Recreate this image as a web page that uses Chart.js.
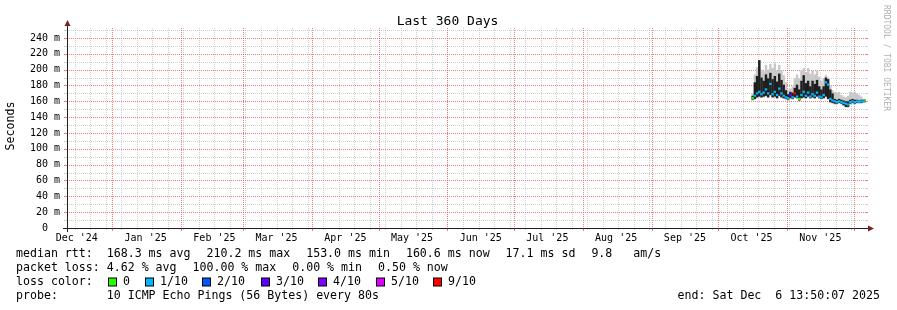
<!DOCTYPE html>
<html lang="en">
<head>
<meta charset="UTF-8">
<title>Last 360 Days</title>
<script src="https://cdn.jsdelivr.net/npm/chart.js"></script>
<style>
  html, body { margin: 0; padding: 0; background: #fff; }
  #wrap { width: 897px; height: 310px; }
</style>
</head>
<body>
<div id="wrap"><canvas id="ping" width="897" height="310"></canvas></div>
<script>
// one sample per day (ms)
const days = [
  '2025-10-16','2025-10-17','2025-10-18','2025-10-19','2025-10-20','2025-10-21','2025-10-22','2025-10-23',
  '2025-10-24','2025-10-25','2025-10-26','2025-10-27','2025-10-28','2025-10-29','2025-10-30','2025-10-31',
  '2025-11-01','2025-11-02','2025-11-03','2025-11-04','2025-11-05','2025-11-06','2025-11-07','2025-11-08',
  '2025-11-09','2025-11-10','2025-11-11','2025-11-12','2025-11-13','2025-11-14','2025-11-15','2025-11-16',
  '2025-11-17','2025-11-18','2025-11-19','2025-11-20','2025-11-21','2025-11-22','2025-11-23','2025-11-24',
  '2025-11-25','2025-11-26','2025-11-27','2025-11-28','2025-11-29','2025-11-30','2025-12-01','2025-12-02',
  '2025-12-03','2025-12-04','2025-12-05','2025-12-06'
];
const median = [
  164,167,170,172,169,171,175,170, 182,169,172,168,176,170,167,165,
  164,168,165,170,166,163,168,172, 167,171,166,169,167,171,166,165,
  168,184,181,163,161,160,159,160, 159,158,157,156,159,160,159,160,
  159,160,160,161
];
const smokeLow = [
  162,163,165,166,165,166,167,165, 168,165,166,164,167,165,164,163,
  162,164,163,165,164,161,164,165, 164,166,164,165,164,166,164,163,
  164,166,163,159,158,157,157,158, 157,155,153,153,157,158,157,158,
  158,158,159,159
];
const smokeHigh = [
  167,184,192,212,190,186,194,189, 196,188,192,185,195,187,181,174,
  169,172,171,177,181,175,186,193, 183,186,179,186,182,187,179,175,
  179,190,188,175,170,163,162,163, 162,161,160,160,162,163,162,162,
  161,162,162,162
];
const smokeTop = [
  170,194,203,212,200,198,206,200, 207,202,208,199,206,199,193,184,
  175,176,179,189,194,189,199,202, 197,202,195,199,194,199,191,186,
  189,193,190,180,174,172,171,172, 168,166,165,167,172,171,172,170,
  168,166,163,163
];
const lossTenths = [
  0,1,1,1,1,1,1,1, 1,1,1,1,1,1,1,1,
  1,3,1,9,1,0,1,1, 1,1,1,1,1,1,1,1,
  1,1,1,1,1,1,1,1, 1,1,1,1,1,1,1,1,
  1,1,1,0
];

const yTicks = [0, 20, 40, 60, 80, 100, 120, 140, 160, 180, 200, 220, 240];
const monthStarts = [
  '2024-12-01','2025-01-01','2025-02-01','2025-03-01','2025-04-01','2025-05-01','2025-06-01',
  '2025-07-01','2025-08-01','2025-09-01','2025-10-01','2025-11-01','2025-12-01'
];
const monthLabels = ["Dec '24", "Jan '25", "Feb '25", "Mar '25", "Apr '25", "May '25",
  "Jun '25", "Jul '25", "Aug '25", "Sep '25", "Oct '25", "Nov '25"];

const lossSteps = [0, 1, 2, 3, 4, 5, 9];
const lossNames = ['0', '1/10', '2/10', '3/10', '4/10', '5/10', '9/10'];
const lossColors = ['#26ff00', '#00b8ff', '#0059ff', '#5e00ff', '#7e00ff', '#dd00ff', '#ff0000'];

const rttItems = ['median rtt:', '168.3 ms avg', '210.2 ms max', '153.0 ms min', '160.6 ms now', '17.1 ms sd', '9.8   am/s'];
const lossItems = ['packet loss:', '4.62 % avg', '100.00 % max', '0.00 % min', '0.50 % now'];
const probeText = 'probe:       10 ICMP Echo Pings (56 Bytes) every 80s';
const endText = 'end: Sat Dec  6 13:50:07 2025';

const MONO = '"DejaVu Sans Mono", "Liberation Mono", monospace';
const startMs = Date.UTC(2024, 11, 11, 13, 50, 7);   // end minus 360 days
const dayOf = s => {
  const [yy, mm, dd] = s.split('-').map(Number);
  return (Date.UTC(yy, mm - 1, dd) - startMs) / 864e5;
};
const xs = days.map(d => dayOf(d) + 0.5);
const lossColor = l => {
  let c = lossColors[0];
  lossSteps.forEach((s, i) => { if (l >= s) c = lossColors[i]; });
  return c;
};

function dots(ctx, x1, y1, x2, y2, color) {
  ctx.strokeStyle = color;
  ctx.setLineDash([1, 1]);
  ctx.beginPath(); ctx.moveTo(x1, y1); ctx.lineTo(x2, y2); ctx.stroke();
  ctx.setLineDash([]);
}
function solid(ctx, x1, y1, x2, y2, color) {
  ctx.strokeStyle = color;
  ctx.beginPath(); ctx.moveTo(x1, y1); ctx.lineTo(x2, y2); ctx.stroke();
}
// legend row: label column is 13 chars wide, then items 2 chars apart (+2px like rrdtool)
function items(ctx, list, x, y) {
  const cw = ctx.measureText('0').width;
  ctx.fillText(list[0], x, y);
  x += 13 * cw;
  list.slice(1).forEach(t => {
    ctx.fillText(t, x, y);
    x += (t.length + 2) * cw + 2;
  });
}

const GRID = 'rgba(143,143,143,0.42)';
const MGRID = 'rgba(228,70,70,0.7)';

const rrdLook = {
  id: 'rrdLook',
  beforeDatasetsDraw(chart) {
    const { ctx, chartArea: a, scales: { x, y } } = chart;
    ctx.save();
    ctx.lineWidth = 1;
    // horizontal grid: minor every 10, major every 20
    for (let v = 10; v <= y.max; v += 10) {
      const py = Math.round(y.getPixelForValue(v)) + 0.5;
      const c = v % 20 === 0 ? MGRID : GRID;
      dots(ctx, a.left, py, a.right, py, c);
      solid(ctx, a.left - 3, py, a.left, py, c);
      solid(ctx, a.right, py, a.right + 2, py, c);
    }
    // weekly grid (sundays)
    for (let d = dayOf('2024-12-15'); d < x.max; d += 7) {
      const px = Math.round(x.getPixelForValue(d)) + 0.5;
      dots(ctx, px, a.top, px, a.bottom, GRID);
      solid(ctx, px, a.bottom, px, a.bottom + 2, GRID);
    }
    // month grid
    monthStarts.map(s => dayOf(s)).filter(d => d > 0 && d < x.max).forEach(d => {
      const px = Math.round(x.getPixelForValue(d)) + 0.5;
      dots(ctx, px, a.top, px, a.bottom, MGRID);
      solid(ctx, px, a.bottom, px, a.bottom + 3, MGRID);
    });
    ctx.restore();
  },
  afterDatasetsDraw(chart) {
    const { ctx, chartArea: a } = chart;
    ctx.save();
    ctx.lineWidth = 1;
    const bx = Math.round(a.bottom) + 0.5;
    const lx = Math.round(a.left) + 0.5;
    solid(ctx, a.left - 4, bx, a.right + 3, bx, '#1f1f1f');
    solid(ctx, lx, a.bottom + 4, lx, a.top - 3, '#1f1f1f');
    ctx.fillStyle = '#801f1f';
    ctx.beginPath();
    ctx.moveTo(a.right + 2, bx - 3); ctx.lineTo(a.right + 8, bx); ctx.lineTo(a.right + 2, bx + 3);
    ctx.closePath(); ctx.fill();
    ctx.beginPath();
    ctx.moveTo(lx - 3, a.top - 2); ctx.lineTo(lx, a.top - 8); ctx.lineTo(lx + 3, a.top - 2);
    ctx.closePath(); ctx.fill();
    ctx.restore();
  },
  afterDraw(chart) {
    const { ctx } = chart;
    ctx.save();
    ctx.fillStyle = '#000';
    // title
    ctx.font = '13px ' + MONO;
    ctx.textAlign = 'center';
    ctx.textBaseline = 'alphabetic';
    ctx.fillText('Last 360 Days', 447.5, 25);
    // unit
    ctx.font = '11.6px ' + MONO;
    ctx.save();
    ctx.translate(11, 126);
    ctx.rotate(-Math.PI / 2);
    ctx.textBaseline = 'middle';
    ctx.fillText('Seconds', 0, 0);
    ctx.restore();
    // watermark
    ctx.save();
    ctx.font = '8px ' + MONO;
    ctx.fillStyle = 'rgba(0,0,0,0.33)';
    ctx.translate(886, 5);
    ctx.rotate(Math.PI / 2);
    ctx.textAlign = 'left';
    ctx.textBaseline = 'middle';
    ctx.fillText('RRDTOOL / TOBI OETIKER', 0, 0);
    ctx.restore();
    // legend
    ctx.textAlign = 'left';
    ctx.textBaseline = 'middle';
    const rowY = [254, 268, 282, 296];
    items(ctx, rttItems, 16, rowY[0]);
    items(ctx, lossItems, 16, rowY[1]);
    ctx.fillText('loss color:', 16, rowY[2]);
    ctx.fillText(probeText, 16, rowY[3]);
    const boxX = [108.5, 145.5, 202.5, 261.5, 318.5, 376.5, 433.5];
    lossNames.forEach((n, i) => {
      ctx.fillStyle = lossColors[i];
      ctx.fillRect(boxX[i], rowY[2] - 4, 8, 8);
      ctx.strokeStyle = '#000';
      ctx.lineWidth = 1;
      ctx.strokeRect(boxX[i], rowY[2] - 4, 8, 8);
      ctx.fillStyle = '#000';
      ctx.fillText(n, boxX[i] + 14.5, rowY[2]);
    });
    ctx.textAlign = 'right';
    ctx.fillText(endText, 880, rowY[3]);
    ctx.restore();
  }
};

const barBase = { grouped: false, barPercentage: 1.1, categoryPercentage: 1, borderWidth: 0 };

new Chart(document.getElementById('ping'), {
  type: 'bar',
  data: {
    datasets: [
      { ...barBase, label: 'smoke', order: 3, backgroundColor: '#c8c8c8',
        data: xs.map((x, i) => ({ x, y: [smokeLow[i] - 1, smokeTop[i]] })) },
      { ...barBase, label: 'dense smoke', order: 2, backgroundColor: '#1e1e1e',
        data: xs.map((x, i) => ({ x, y: [smokeLow[i], smokeHigh[i]] })) },
      { ...barBase, label: 'median rtt', order: 1,
        backgroundColor: c => lossColor(lossTenths[c.dataIndex]),
        data: xs.map((x, i) => ({ x, y: [median[i] - 1.4, median[i] + 1.4] })) }
    ]
  },
  options: {
    responsive: false,
    devicePixelRatio: 1,
    animation: false,
    events: [],
    layout: { padding: { left: 0, right: 31, top: 28, bottom: 0 } },
    plugins: { legend: { display: false }, tooltip: { enabled: false } },
    scales: {
      x: {
        type: 'linear', min: 0, max: 360, offset: false,
        grid: { display: false, drawTicks: false },
        border: { display: false },
        afterBuildTicks: s => { s.ticks = monthStarts.slice(0, monthLabels.length).map(m => ({ value: dayOf(m) + 15 })); },
        afterFit: s => { s.height = 82; },
        ticks: {
          autoSkip: false, maxRotation: 0, minRotation: 0, padding: 4,
          color: '#000', font: { family: MONO, size: 10 },
          callback: (v, i) => monthLabels[i]
        }
      },
      y: {
        min: 0, max: 252.6,
        grid: { display: false, drawTicks: false },
        border: { display: false },
        afterBuildTicks: s => { s.ticks = yTicks.map(v => ({ value: v })); },
        afterFit: s => { s.width = 67; },
        ticks: {
          padding: 7, color: '#000', font: { family: MONO, size: 10 },
          callback: v => v === 0 ? '0  ' : v + ' m'
        }
      }
    }
  },
  plugins: [rrdLook]
});
</script>
</body>
</html>
